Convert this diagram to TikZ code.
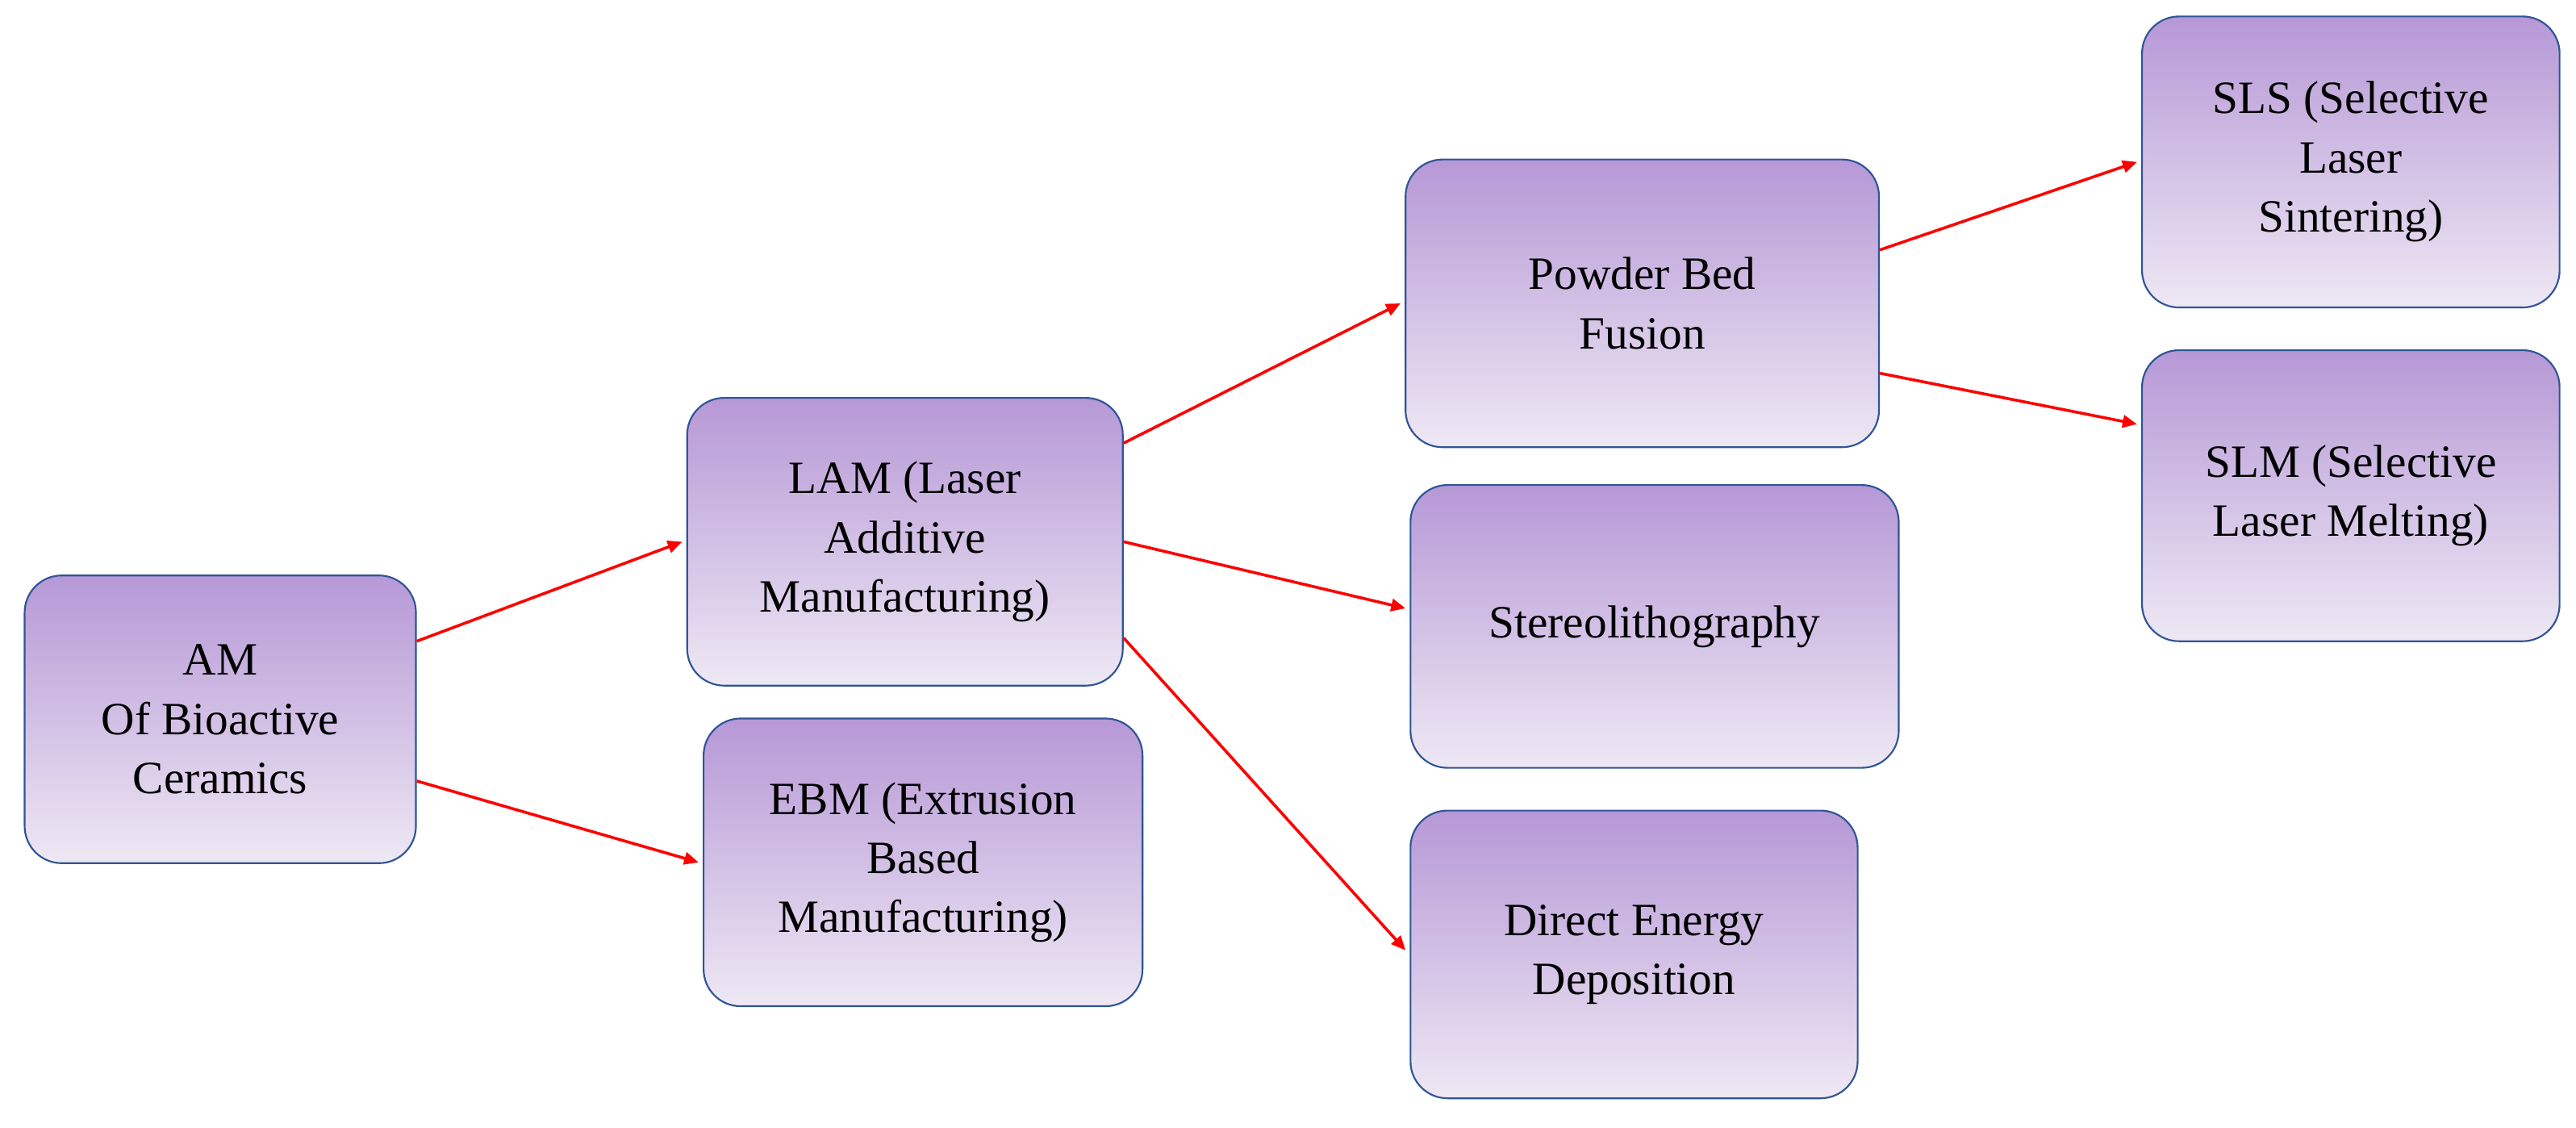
\documentclass[tikz,border=0pt]{standalone}
\usepackage{fontspec}
\setmainfont{Liberation Serif}
\usetikzlibrary{arrows.meta}
\definecolor{topc}{RGB}{182,152,214}
\definecolor{botc}{RGB}{238,232,244}
\definecolor{edge}{RGB}{47,85,151}
\begin{document}
\begin{tikzpicture}[x=0.04cm,y=-0.04cm,
 box/.style={draw=edge, line width=1.2pt, rounded corners=0.9cm, top color=topc, bottom color=botc, shading angle=0, align=center, font=\fontsize{32}{41}\selectfont, inner sep=0pt},
 arr/.style={draw=red, line width=2pt, -{Triangle[length=0.35cm,width=0.3cm]}}]
\useasboundingbox (0,0) rectangle (1567,685.6);
\newcommand\bx[6]{\node[box, minimum width=(#4-#2)*0.04cm, minimum height=(#5-#3)*0.04cm] (#1) at ({(#2+#4)/2},{(#3+#5)/2}) {#6};}
\bx{am}{15}{350}{253}{525}{AM\\Of Bioactive\\Ceramics}
\bx{lam}{418}{242}{683}{417}{LAM (Laser\\Additive\\Manufacturing)}
\bx{ebm}{428}{437}{695}{612}{EBM (Extrusion\\Based\\Manufacturing)}
\bx{pbf}{855}{97}{1143}{272}{Powder Bed\\Fusion}
\bx{sla}{858}{295}{1155}{467}{Stereolithography}
\bx{ded}{858}{493}{1130}{668}{Direct Energy\\Deposition}
\bx{sls}{1303}{10}{1557}{187}{SLS (Selective\\Laser\\Sintering)}
\bx{slm}{1303}{213}{1557}{390}{SLM (Selective\\Laser Melting)}
\draw[arr] ([yshift=1.9cm]am.east) -- ([xshift=-0.1cm]lam.west);
\draw[arr] ([yshift=-1.5cm]am.east) -- ([xshift=-0.1cm]ebm.west);
\draw[arr] ([yshift=2.4cm]lam.east) -- ([xshift=-0.1cm]pbf.west);
\draw[arr] (lam.east) -- ([yshift=0.44cm,xshift=-0.1cm]sla.west);
\draw[arr] ([yshift=-2.34cm]lam.east) -- ([yshift=0.1cm,xshift=-0.1cm]ded.west);
\draw[arr] ([yshift=1.3cm]pbf.east) -- ([xshift=-0.1cm]sls.west);
\draw[arr] ([yshift=-1.7cm]pbf.east) -- ([yshift=1.74cm,xshift=-0.1cm]slm.west);
\end{tikzpicture}
\end{document}
